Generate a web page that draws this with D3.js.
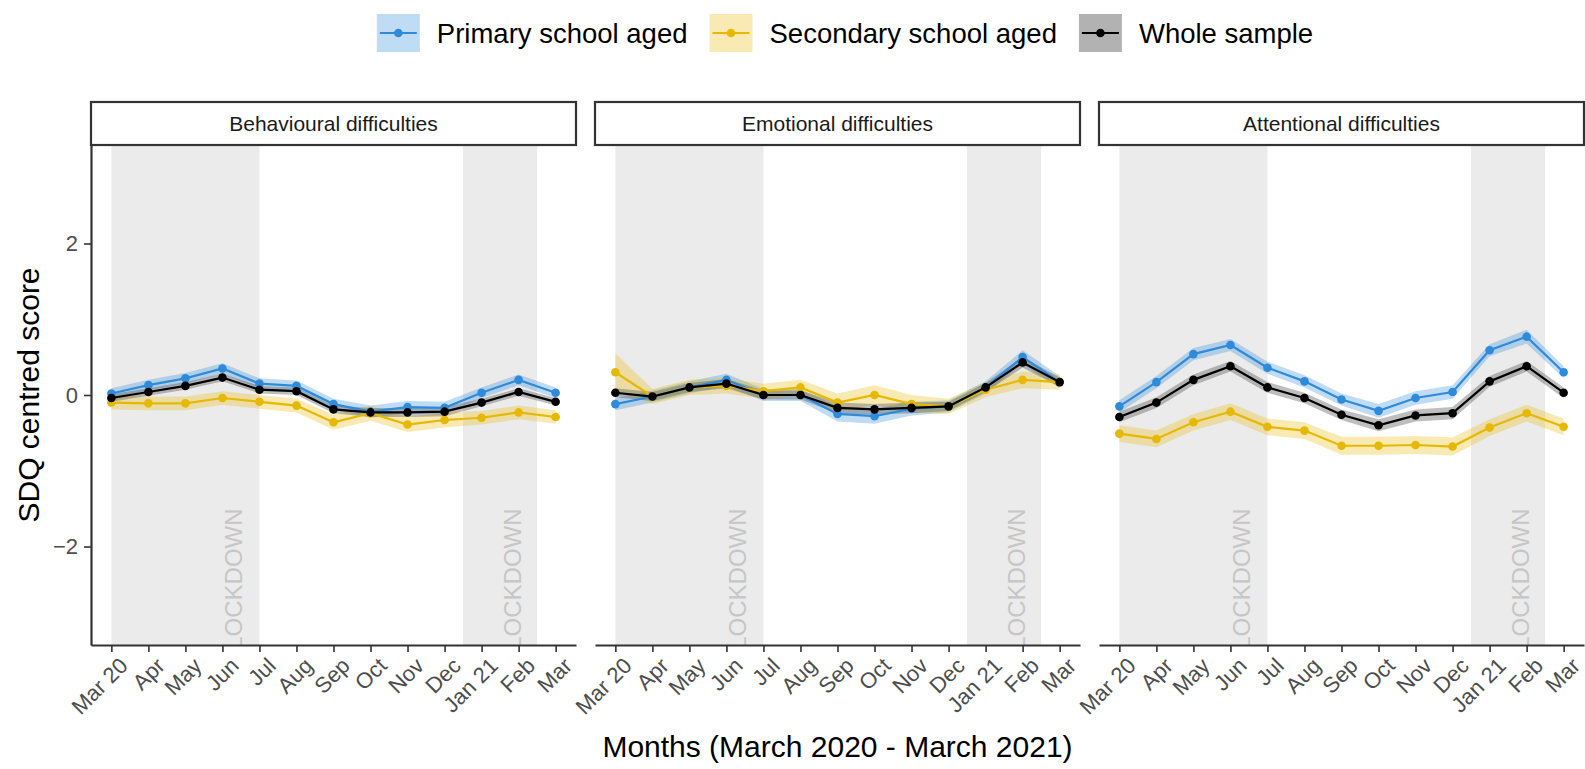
<!DOCTYPE html>
<html><head><meta charset="utf-8">
<script src="https://cdn.jsdelivr.net/npm/d3@7"></script>
<style>
body{margin:0;background:#fff}
svg{display:block}
text{font-family:"Liberation Sans",Arial,Helvetica,sans-serif}
</style>
</head><body>
<svg id="chart" width="1585" height="769"></svg>
<script>
// ---------------- DATA ----------------
const months = ["Mar 20","Apr","May","Jun","Jul","Aug","Sep","Oct","Nov","Dec","Jan 21","Feb","Mar"];
const panelNames = ["Behavioural difficulties","Emotional difficulties","Attentional difficulties"];
const groupNames = ["Primary school aged","Secondary school aged","Whole sample"];
const yTicks = [-2, 0, 2];
const lockdownPeriods = [[1, 5], [10.5, 12.5]];
const lockdownLabelX = [4.3, 11.85];
const lockdownLabel = "LOCKDOWN";

// Behavioural
const behavPrimary   = [0.02, 0.13, 0.22, 0.35, 0.15, 0.12, -0.12, -0.22, -0.16, -0.17, 0.03, 0.20, 0.03];
const behavSecondary = [-0.10, -0.11, -0.11, -0.04, -0.09, -0.14, -0.36, -0.24, -0.39, -0.33, -0.30, -0.23, -0.29];
const behavWhole     = [-0.04, 0.04, 0.12, 0.23, 0.07, 0.05, -0.19, -0.23, -0.23, -0.22, -0.10, 0.04, -0.09];
const behavPrimaryCI   = [0.07,0.07,0.07,0.07,0.07,0.07,0.07,0.08,0.08,0.08,0.07,0.07,0.07];
const behavSecondaryCI = [0.09,0.09,0.09,0.09,0.09,0.09,0.10,0.10,0.10,0.10,0.09,0.09,0.09];
const behavWholeCI     = [0.05,0.05,0.05,0.05,0.05,0.05,0.05,0.06,0.06,0.06,0.05,0.05,0.05];

// Emotional
const emoPrimary   = [-0.12, -0.02, 0.10, 0.20, 0.00, 0.00, -0.25, -0.28, -0.18, -0.15, 0.10, 0.50, 0.17];
const emoSecondary = [0.30, -0.02, 0.10, 0.12, 0.05, 0.10, -0.10, 0.00, -0.12, -0.15, 0.07, 0.20, 0.17];
const emoWhole     = [0.03, -0.02, 0.10, 0.15, 0.00, 0.00, -0.17, -0.19, -0.17, -0.15, 0.10, 0.43, 0.17];
const emoPrimaryCI   = [0.08,0.08,0.08,0.08,0.08,0.08,0.10,0.10,0.09,0.08,0.08,0.09,0.08];
const emoSecondaryCI = [0.25,0.10,0.10,0.10,0.10,0.10,0.12,0.13,0.12,0.10,0.10,0.11,0.10];
const emoWholeCI     = [0.06,0.06,0.06,0.06,0.06,0.06,0.07,0.07,0.07,0.06,0.06,0.07,0.06];

// Attentional
const attPrimary   = [-0.15, 0.17, 0.54, 0.66, 0.36, 0.18, -0.06, -0.21, -0.04, 0.04, 0.59, 0.77, 0.30];
const attSecondary = [-0.51, -0.58, -0.36, -0.22, -0.42, -0.47, -0.67, -0.67, -0.66, -0.68, -0.43, -0.24, -0.42];
const attWhole     = [-0.29, -0.10, 0.20, 0.38, 0.10, -0.04, -0.26, -0.40, -0.27, -0.24, 0.18, 0.38, 0.03];
const attPrimaryCI   = [0.08,0.08,0.08,0.08,0.08,0.08,0.08,0.09,0.09,0.09,0.08,0.09,0.08];
const attSecondaryCI = [0.11,0.11,0.11,0.11,0.11,0.11,0.12,0.12,0.12,0.12,0.11,0.11,0.11];
const attWholeCI     = [0.07,0.07,0.07,0.07,0.07,0.07,0.07,0.08,0.08,0.08,0.07,0.07,0.07];

const groupColors = ["#2E8BDB", "#E7B800", "#000000"];
const ribbonFills = ["#2E8BDB", "#E7B800", "#555555"];

// ---------------- BUILD ----------------
const panelData = [
  [[behavPrimary, behavPrimaryCI], [behavSecondary, behavSecondaryCI], [behavWhole, behavWholeCI]],
  [[emoPrimary, emoPrimaryCI], [emoSecondary, emoSecondaryCI], [emoWhole, emoWholeCI]],
  [[attPrimary, attPrimaryCI], [attSecondary, attSecondaryCI], [attWhole, attWholeCI]]
];

const svg = d3.select("#chart");
const panelX = [91, 595, 1099];
const panelW = 485, plotTop = 145, plotBottom = 645;
const stripTop = 102;
const x = d3.scaleLinear().domain([0.45, 13.55]).range([0, panelW]);
const y = d3.scaleLinear().domain([-3.3, 3.3]).range([plotBottom, plotTop]);
const axisCol = "#333333";
const tickTextCol = "#4d4d4d";

panelNames.forEach((pname, p) => {
  const g = svg.append("g").attr("transform", `translate(${panelX[p]},0)`);
  const clipId = "clip" + p;
  g.append("clipPath").attr("id", clipId)
    .append("rect").attr("x", 0).attr("y", plotTop).attr("width", panelW).attr("height", plotBottom - plotTop);
  const plot = g.append("g").attr("clip-path", `url(#${clipId})`);

  plot.selectAll("rect.ld").data(lockdownPeriods).join("rect")
    .attr("class", "ld")
    .attr("x", d => x(d[0])).attr("width", d => x(d[1]) - x(d[0]))
    .attr("y", plotTop).attr("height", plotBottom - plotTop)
    .attr("fill", "#ebebeb");

  lockdownLabelX.forEach(lx => {
    plot.append("text")
      .attr("transform", `translate(${x(lx)},${y(-2.43)}) rotate(-90)`)
      .attr("text-anchor", "middle").attr("dy", "0.35em")
      .attr("font-size", 24).attr("fill", "#c6c6c6")
      .text(lockdownLabel);
  });

  const series = panelData[p];
  series.forEach(([vals, ci], gi) => {
    const area = d3.area()
      .x((d, i) => x(i + 1))
      .y0((d, i) => y(d - ci[i]))
      .y1((d, i) => y(d + ci[i]));
    plot.append("path").datum(vals).attr("d", area)
      .attr("fill", ribbonFills[gi]).attr("fill-opacity", gi === 2 ? 0.38 : 0.3);
  });
  series.forEach(([vals], gi) => {
    const line = d3.line().x((d, i) => x(i + 1)).y(d => y(d));
    plot.append("path").datum(vals).attr("d", line)
      .attr("fill", "none").attr("stroke", groupColors[gi]).attr("stroke-width", 2.2);
    plot.selectAll("circle.g" + gi).data(vals).join("circle")
      .attr("class", "g" + gi)
      .attr("cx", (d, i) => x(i + 1)).attr("cy", d => y(d)).attr("r", 4.3)
      .attr("fill", groupColors[gi]);
  });

  const xa = g.append("g").attr("transform", `translate(0,${plotBottom})`)
    .call(d3.axisBottom(x).tickValues(d3.range(1, 14)).tickFormat(i => months[i - 1])
      .tickSize(7).tickSizeOuter(0));
  xa.select(".domain").attr("stroke", axisCol).attr("stroke-width", 2.2);
  xa.selectAll(".tick line").attr("stroke", axisCol).attr("stroke-width", 1.6);
  xa.selectAll(".tick text")
    .attr("font-size", 22).attr("fill", tickTextCol)
    .attr("font-family", "Liberation Sans, Arial, sans-serif")
    .attr("text-anchor", "end")
    .attr("x", 0).attr("y", 0).attr("dy", "0.72em")
    .attr("transform", "translate(6,11) rotate(-45)");

  if (p === 0) {
    const ya = g.append("g")
      .call(d3.axisLeft(y).tickValues(yTicks).tickFormat(d3.format("d")).tickSize(7).tickSizeOuter(0));
    ya.select(".domain").attr("stroke", axisCol).attr("stroke-width", 2.2);
    ya.selectAll(".tick line").attr("stroke", axisCol).attr("stroke-width", 1.6);
    ya.selectAll(".tick text").attr("font-size", 22).attr("fill", tickTextCol)
      .attr("font-family", "Liberation Sans, Arial, sans-serif").attr("x", -13);
  }

  g.append("rect").attr("x", 0).attr("y", stripTop).attr("width", panelW).attr("height", plotTop - stripTop)
    .attr("fill", "#fff").attr("stroke", axisCol).attr("stroke-width", 2.2);
  g.append("text").attr("x", panelW / 2).attr("y", (stripTop + plotTop) / 2).attr("dy", "0.35em")
    .attr("text-anchor", "middle").attr("font-size", 21).attr("fill", "#1a1a1a").text(pname);
});

svg.append("text").attr("x", (panelX[0] + panelX[2] + panelW) / 2).attr("y", 757)
  .attr("text-anchor", "middle").attr("font-size", 30).attr("fill", "#000")
  .text("Months (March 2020 - March 2021)");
svg.append("text").attr("transform", `translate(39,${(plotTop + plotBottom) / 2}) rotate(-90)`)
  .attr("text-anchor", "middle").attr("font-size", 30).attr("fill", "#000")
  .text("SDQ centred score");

// legend (laid out then centred)
const leg = svg.append("g");
let legX = 0;
const keyW = 43, keyH = 38, legCy = 33, keyGap = 17, itemGap = 22;
groupNames.forEach((name, gi) => {
  const k = leg.append("g").attr("transform", `translate(${legX},${legCy - keyH / 2})`);
  k.append("rect").attr("width", keyW).attr("height", keyH)
    .attr("fill", ribbonFills[gi]).attr("fill-opacity", gi === 2 ? 0.45 : 0.3);
  k.append("line").attr("x1", 3).attr("x2", keyW - 3).attr("y1", keyH / 2).attr("y2", keyH / 2)
    .attr("stroke", groupColors[gi]).attr("stroke-width", 2.2);
  k.append("circle").attr("cx", keyW / 2).attr("cy", keyH / 2).attr("r", 4.3).attr("fill", groupColors[gi]);
  const t = leg.append("text").attr("x", legX + keyW + keyGap).attr("y", legCy).attr("dy", "0.35em")
    .attr("font-size", 27.5).attr("fill", "#000").text(name);
  legX = legX + keyW + keyGap + t.node().getComputedTextLength() + (gi < 2 ? itemGap : 0);
});
leg.attr("transform", `translate(${845 - legX / 2},0)`);
</script>
</body></html>
